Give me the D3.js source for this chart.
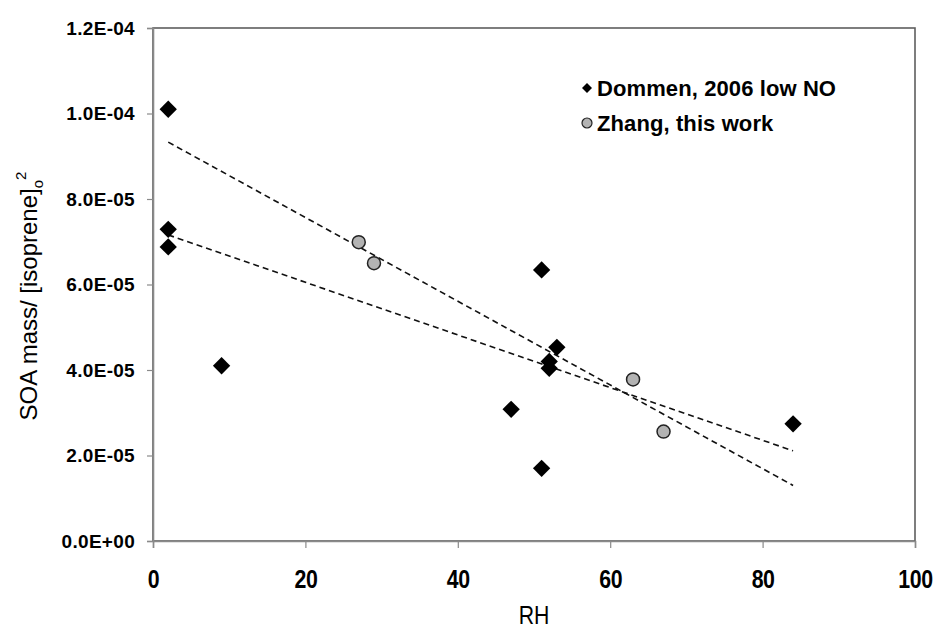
<!DOCTYPE html>
<html>
<head>
<meta charset="utf-8">
<script src="https://cdn.jsdelivr.net/npm/d3@7"></script>
<style>
  body { margin: 0; background: #fff; }
  text { font-family: "Liberation Sans", Arial, sans-serif; }
</style>
</head>
<body>
<script>
// Dommen, 2006 low NO
var dommenRH  = [2, 2, 2, 9, 47, 51, 51, 52, 52, 53, 84];
var dommenSOA = [1.01e-4, 7.29e-5, 6.88e-5, 4.1e-5, 3.08e-5, 6.34e-5, 1.70e-5, 4.2e-5, 4.04e-5, 4.53e-5, 2.74e-5];
// Zhang, this work
var zhangRH  = [27, 29, 63, 67];
var zhangSOA = [6.99e-5, 6.50e-5, 3.78e-5, 2.56e-5];
// trend lines, end points
var trendRH    = [2, 84];
var trendSteep = [9.33e-5, 1.30e-5];
var trendFlat  = [7.16e-5, 2.11e-5];

var xTicks = [0, 20, 40, 60, 80, 100];
var yTicks = [0, 2e-5, 4e-5, 6e-5, 8e-5, 1e-4, 1.2e-4];
var legendNames = ["Dommen, 2006 low NO", "Zhang, this work"];

var W = 944, H = 632;
var pLeft = 153, pRight = 915, pTop = 28, pBottom = 541;

var svg = d3.select("body").append("svg")
  .attr("width", W)
  .attr("height", H);

var x = d3.scaleLinear().domain([0, 100]).range([pLeft, pRight]);
var y = d3.scaleLinear().domain([0, 1.2e-4]).range([pBottom, pTop]);

function sci(v) {
  if (v === 0) return "0.0E+00";
  var e = Math.floor(Math.log10(v) + 1e-9);
  var m = v / Math.pow(10, e);
  var s = e < 0 ? "-" : "+";
  var a = Math.abs(e);
  return m.toFixed(1) + "E" + s + (a < 10 ? "0" + a : a);
}

// frame
svg.append("rect")
  .attr("x", pLeft).attr("y", pTop)
  .attr("width", pRight - pLeft).attr("height", pBottom - pTop)
  .attr("fill", "none").attr("stroke", "#5e5e5e").attr("stroke-width", 1.6);

// axes
var xAxis = svg.append("g")
  .attr("transform", "translate(0," + pBottom + ")")
  .call(d3.axisBottom(x).tickValues(xTicks).tickSize(7).tickPadding(22));
var yAxis = svg.append("g")
  .attr("transform", "translate(" + pLeft + ",0)")
  .call(d3.axisLeft(y).tickValues(yTicks).tickFormat(sci).tickSize(6).tickPadding(12));

[xAxis, yAxis].forEach(function(g) {
  g.select(".domain").attr("stroke", "#8a8a8a").attr("stroke-width", 1.6);
  g.selectAll(".tick line").attr("stroke", "#8a8a8a").attr("stroke-width", 1.2);
  g.selectAll(".tick text")
    .attr("fill", "#000")
    .style("font-weight", "bold");
});
// narrow, tall digits like the original
xAxis.selectAll(".tick text")
  .style("font-size", "26px")
  .attr("letter-spacing", "-0.5px")
  .attr("transform", "scale(0.82,1)");
yAxis.selectAll(".tick text")
  .style("font-size", "19px")
  .attr("letter-spacing", "0.3px");

// axis titles
svg.append("text")
  .attr("transform", "translate(" + ((pLeft + pRight) / 2) + ",624) scale(0.85,1)")
  .attr("text-anchor", "middle")
  .style("font-size", "25px")
  .text("RH");

var yt = svg.append("text")
  .attr("transform", "translate(37," + 296 + ") rotate(-90)")
  .attr("text-anchor", "middle")
  .style("font-size", "24px");
yt.append("tspan").text("SOA mass/ [isoprene]");
yt.append("tspan").attr("dy", 6).style("font-size", "15px").text("o");
yt.append("tspan").attr("dy", -17).style("font-size", "15px").text("2");

// trend lines
var line = d3.line()
  .x(function(d) { return x(d[0]); })
  .y(function(d) { return y(d[1]); });

[trendSteep, trendFlat].forEach(function(t) {
  svg.append("path")
    .datum(d3.zip(trendRH, t))
    .attr("d", line)
    .attr("fill", "none")
    .attr("stroke", "#111")
    .attr("stroke-width", 1.6)
    .attr("stroke-dasharray", "6,4");
});

var diamond = d3.symbol().type(d3.symbolSquare).size(150);

// Dommen points
svg.selectAll("path.dommen")
  .data(d3.zip(dommenRH, dommenSOA))
  .enter()
  .append("path")
  .attr("class", "dommen")
  .attr("d", diamond)
  .attr("transform", function(d) {
    return "translate(" + x(d[0]) + "," + y(d[1]) + ") rotate(45)";
  })
  .attr("fill", "#000");

// Zhang points
svg.selectAll("circle.zhang")
  .data(d3.zip(zhangRH, zhangSOA))
  .enter()
  .append("circle")
  .attr("class", "zhang")
  .attr("cx", function(d) { return x(d[0]); })
  .attr("cy", function(d) { return y(d[1]); })
  .attr("r", 6.5)
  .attr("fill", "#b3b3b3")
  .attr("stroke", "#222")
  .attr("stroke-width", 1.5);

// legend
var lg = svg.append("g").attr("transform", "translate(587,88)");
lg.append("path")
  .attr("d", d3.symbol().type(d3.symbolSquare).size(50))
  .attr("transform", "rotate(45)")
  .attr("fill", "#000");
lg.append("circle")
  .attr("cy", 35).attr("r", 5)
  .attr("fill", "#b3b3b3").attr("stroke", "#222").attr("stroke-width", 1.2);
lg.selectAll("text.leg")
  .data(legendNames)
  .enter()
  .append("text")
  .attr("class", "leg")
  .attr("x", 10)
  .attr("y", function(d, i) { return i * 35 + 8; })
  .style("font-size", "22px")
  .style("font-weight", "bold")
  .attr("letter-spacing", "0.1px")
  .text(function(d) { return d; });
</script>
</body>
</html>
